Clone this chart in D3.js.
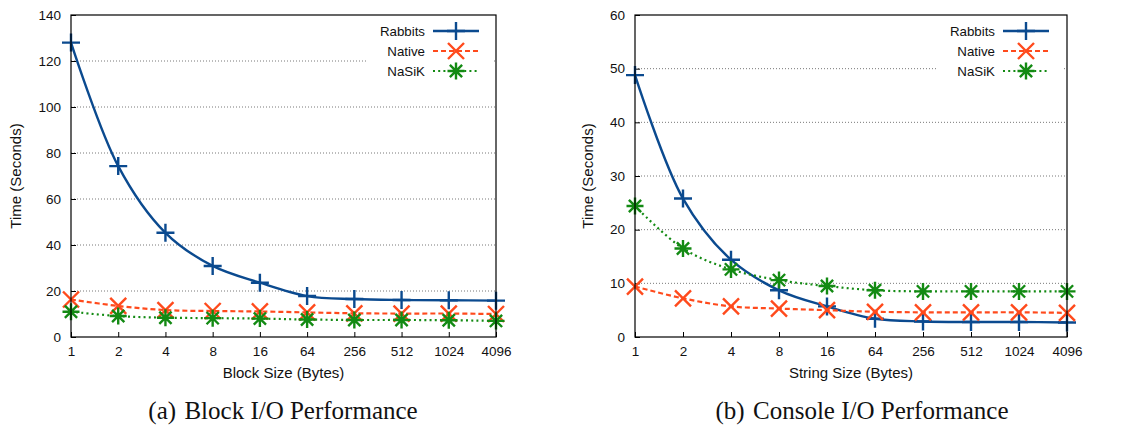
<!DOCTYPE html>
<html><head><meta charset="utf-8">
<script src="https://cdnjs.cloudflare.com/ajax/libs/d3/7.8.5/d3.min.js"></script>
<style>body{margin:0;background:#fff}svg{display:block}</style>
</head><body>
<svg id="c" width="1122" height="427"></svg>
<script>
const sizes = ["1","2","4","8","16","64","256","512","1024","4096"];
const seriesNames = ["Rabbits","Native","NaSiK"];
const blockRabbits = [128,74.3,45.3,30.9,23.6,17.8,16.5,16.1,16.0,15.8];
const blockNative  = [16.3,13.5,11.7,11.3,11.1,10.7,10.3,10.2,10.2,10.0];
const blockNasik   = [11.0,9.1,8.4,8.2,8.0,7.6,7.4,7.4,7.3,7.0];
const consoleRabbits = [48.8,25.8,14.4,8.7,5.7,3.4,2.9,2.8,2.8,2.7];
const consoleNative  = [9.4,7.2,5.7,5.3,5.0,4.7,4.6,4.6,4.6,4.5];
const consoleNasik   = [24.4,16.5,12.6,10.6,9.5,8.7,8.5,8.5,8.5,8.5];
const blockTicks = [0,20,40,60,80,100,120,140];
const consoleTicks = [0,10,20,30,40,50,60];
const xTitles = ["Block Size (Bytes)","String Size (Bytes)"];
const yTitle = "Time (Seconds)";
const captions = ["(a)\u2004Block I/O Performance","(b)\u2004Console I/O Performance"];

const colors = ["#0b4a8f","#ff4a1c","#138a13"];
const dashes = [null,"5,3","2,3.2"];
const widths = [2.4,2.2,2.2];
const svg = d3.select("#c");
const font = "'Liberation Sans', Arial, sans-serif";

function marker(g, type, x, y, color){
  let p;
  if(type===0){ const s=9; p = `M${x-s},${y}H${x+s}M${x},${y-s}V${y+s}`; }
  else if(type===1){ const s=8; p = `M${x-s},${y-s}L${x+s},${y+s}M${x-s},${y+s}L${x+s},${y-s}`; }
  else { const s=8.5, d=s*0.72; p = `M${x-s},${y}H${x+s}M${x},${y-s}V${y+s}M${x-d},${y-d}L${x+d},${y+d}M${x-d},${y+d}L${x+d},${y-d}`; }
  g.append("path").attr("d",p).attr("stroke",color).attr("stroke-width",2.4).attr("fill","none");
}

function panel(opt){
  const {L,R,T,B,ymax,ticks,data,xTitle,yx,cap,capx,legX} = opt;
  const g = svg.append("g");
  const x = d3.scalePoint().domain(sizes).range([L,R]).padding(0);
  const y = d3.scaleLinear().domain([0,ymax]).range([B,T]);
  g.append("g").selectAll("line").data(ticks.filter(t=>t>0&&t<ymax)).join("line")
    .attr("x1",L).attr("x2",R).attr("y1",d=>y(d)).attr("y2",d=>y(d))
    .attr("stroke","#555").attr("stroke-width",0.8).attr("stroke-dasharray","1,2");
  const ya = g.append("g").attr("transform",`translate(${L},0)`)
    .call(d3.axisLeft(y).tickValues(ticks).tickSize(-5).tickPadding(10).tickFormat(d3.format("d")));
  ya.select(".domain").remove();
  ya.selectAll("text").attr("font-family",font).attr("font-size",13.5).attr("fill","#111");
  ya.selectAll("line").attr("stroke","#000");
  const xa = g.append("g").attr("transform",`translate(0,${B})`)
    .call(d3.axisBottom(x).tickSize(-5).tickPadding(9));
  xa.select(".domain").remove();
  xa.selectAll("text").attr("font-family",font).attr("font-size",13.5).attr("fill","#111");
  xa.selectAll("line").attr("stroke","#000");
  g.append("rect").attr("x",legX-58).attr("y",21).attr("width",R-3-(legX-58)).attr("height",61).attr("fill","#fff");
  data.forEach((vals,i)=>{
    const line = d3.line().x((d,j)=>x(sizes[j])).y(d=>y(d)).curve(d3.curveCatmullRom.alpha(0.5));
    g.append("path").attr("d",line(vals)).attr("fill","none").attr("stroke",colors[i])
      .attr("stroke-width",widths[i]).attr("stroke-dasharray",dashes[i]);
    vals.forEach((v,j)=>marker(g,i,x(sizes[j]),y(v),colors[i]));
  });
  seriesNames.forEach((n,i)=>{
    const ly = 31+i*20;
    g.append("text").attr("x",legX).attr("y",ly).attr("dy","0.35em").attr("text-anchor","end")
      .attr("font-family",font).attr("font-size",13.3).attr("fill","#111").text(n);
    g.append("line").attr("x1",legX+8).attr("x2",legX+54).attr("y1",ly).attr("y2",ly)
      .attr("stroke",colors[i]).attr("stroke-width",widths[i]).attr("stroke-dasharray",dashes[i]);
    marker(g,i,legX+31,ly,colors[i]);
  });
  g.append("rect").attr("x",L).attr("y",T).attr("width",R-L).attr("height",B-T)
    .attr("fill","none").attr("stroke","#000").attr("stroke-width",1.2);
  g.append("text").attr("x",(L+R)/2).attr("y",373).attr("dy","0.35em").attr("text-anchor","middle")
    .attr("font-family",font).attr("font-size",15).attr("fill","#111").text(xTitle);
  g.append("text").attr("transform",`translate(${yx},${(T+B)/2}) rotate(-90)`).attr("dy","0.35em")
    .attr("text-anchor","middle").attr("font-family",font).attr("font-size",15).attr("fill","#111").text(yTitle);
  g.append("text").attr("x",capx).attr("y",419).attr("text-anchor","middle")
    .attr("font-family","'Liberation Serif', 'DejaVu Serif', serif").attr("font-size",25).attr("fill","#111").text(cap);
}

panel({L:71,R:496,T:15,B:337,ymax:140,ticks:blockTicks,data:[blockRabbits,blockNative,blockNasik],
  xTitle:xTitles[0],yx:16,cap:captions[0],capx:283,legX:425});
panel({L:635,R:1067,T:15,B:337,ymax:60,ticks:consoleTicks,data:[consoleRabbits,consoleNative,consoleNasik],
  xTitle:xTitles[1],yx:588,cap:captions[1],capx:862,legX:995});
</script>
</body></html>
